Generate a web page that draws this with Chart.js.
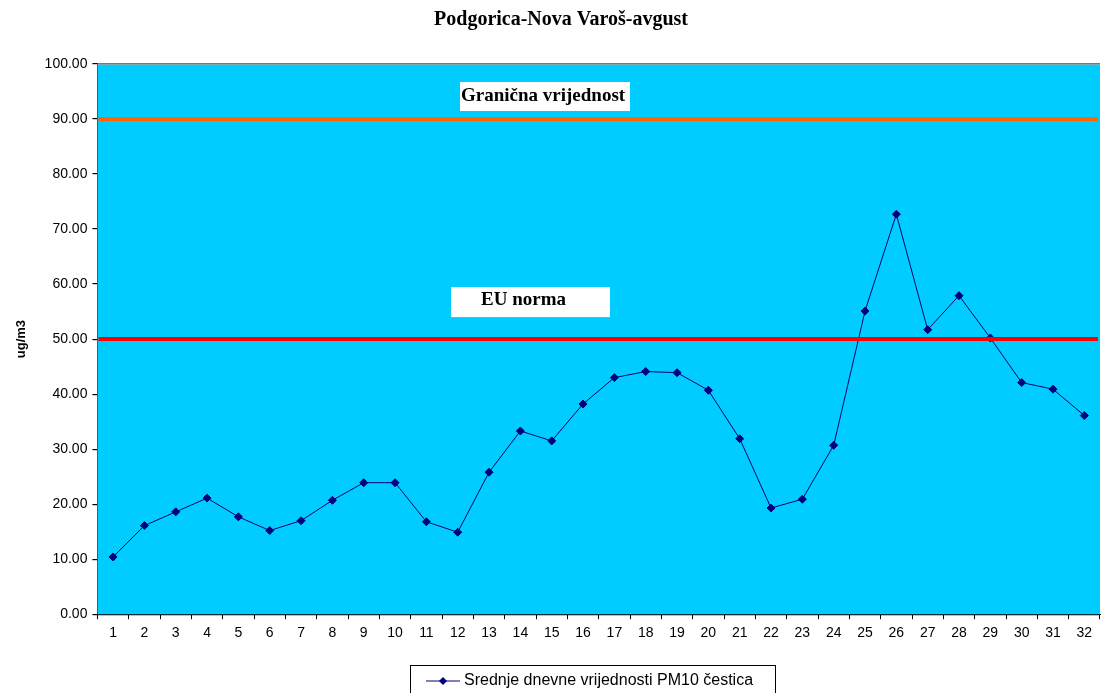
<!DOCTYPE html>
<html>
<head>
<meta charset="utf-8">
<script src="https://cdn.jsdelivr.net/npm/chart.js@4/dist/chart.umd.min.js"></script>
<style>
    body { margin: 0; background: #fff; }
    #wrap { width: 1105px; height: 693px; }
</style>
</head>
<body>
<div id="wrap"><canvas id="graficoPM10" width="1105" height="693"></canvas></div>
<script>
const dani = ["1", "2", "3", "4", "5", "6", "7", "8", "9", "10", "11", "12", "13", "14", "15", "16",
    "17", "18", "19", "20", "21", "22", "23", "24", "25", "26", "27", "28", "29", "30", "31", "32"];

const srednjeVrijednosti = [10.4, 16.1, 18.6, 21.1, 17.7, 15.2, 17.0, 20.7, 23.9, 23.9, 16.8, 14.9, 25.8, 33.3, 31.5, 38.2,
    43.0, 44.1, 43.9, 40.7, 31.9, 19.3, 20.9, 30.7, 55.1, 72.7, 51.7, 57.9, 50.2, 42.1, 40.9, 36.1];

const granicnaVrijednost = 90;
const euNorma = 50;

const nazivSerije = "Srednje dnevne vrijednosti PM10 čestica";
const naslov = "Podgorica-Nova Varoš-avgust";

// pozadina, granicne linije i natpisi
const pozadinaPlugin = {
    id: "pozadina",
    beforeDatasetsDraw(chart) {
        const { ctx, chartArea } = chart;
        ctx.save();
        ctx.fillStyle = "#00ccff";
        ctx.fillRect(chartArea.left, chartArea.top, chartArea.right - chartArea.left, chartArea.bottom - chartArea.top);
        ctx.strokeStyle = "#a0a0a0";
        ctx.lineWidth = 1.5;
        ctx.beginPath();
        ctx.moveTo(chartArea.left, chartArea.top);
        ctx.lineTo(chartArea.right, chartArea.top);
        ctx.stroke();
        ctx.restore();
    },
    afterDatasetsDraw(chart) {
        const { ctx, chartArea, scales } = chart;
        const y90 = scales.y.getPixelForValue(granicnaVrijednost);
        const y50 = scales.y.getPixelForValue(euNorma);

        ctx.save();
        ctx.lineWidth = 4;
        ctx.strokeStyle = "#ff6600";
        ctx.beginPath();
        ctx.moveTo(chartArea.left + 1, y90);
        ctx.lineTo(chartArea.right - 2, y90);
        ctx.stroke();

        ctx.strokeStyle = "#ff0000";
        ctx.beginPath();
        ctx.moveTo(chartArea.left + 1, y50);
        ctx.lineTo(chartArea.right - 2, y50);
        ctx.stroke();

        ctx.fillStyle = "#fff";
        ctx.fillRect(460, y90 - 37, 170, 29);
        ctx.fillRect(451, y50 - 52, 159, 30);

        ctx.fillStyle = "#000";
        ctx.font = "bold 19px 'Liberation Serif', 'Times New Roman', serif";
        ctx.textBaseline = "middle";
        ctx.fillText("Granična vrijednost", 461, y90 - 23);
        ctx.fillText("EU norma", 481, y50 - 39);
        ctx.restore();
    },
    afterDraw(chart) {
        // legenda u okviru, kao u Excelu
        const { ctx } = chart;
        const ds = chart.data.datasets[0];
        ctx.save();
        ctx.strokeStyle = "#000";
        ctx.lineWidth = 1;
        ctx.strokeRect(410.5, 665.5, 365, 40);
        ctx.strokeStyle = ds.borderColor;
        ctx.beginPath();
        ctx.moveTo(426, 681);
        ctx.lineTo(460, 681);
        ctx.stroke();
        ctx.fillStyle = ds.pointBackgroundColor;
        ctx.beginPath();
        ctx.moveTo(443, 677);
        ctx.lineTo(447, 681);
        ctx.lineTo(443, 685);
        ctx.lineTo(439, 681);
        ctx.closePath();
        ctx.fill();
        ctx.fillStyle = "#000";
        ctx.font = "16px 'Liberation Sans', Arial, sans-serif";
        ctx.textBaseline = "middle";
        ctx.fillText(ds.label, 464, 681);
        ctx.restore();
    }
};

const ctx = document.getElementById("graficoPM10").getContext("2d");

new Chart(ctx, {
    type: "line",
    data: {
        labels: dani,
        datasets: [
            {
                label: nazivSerije,
                data: srednjeVrijednosti,
                borderColor: "#000080",
                borderWidth: 1,
                pointStyle: "rectRot",
                pointRadius: 4,
                pointBackgroundColor: "#000080",
                pointBorderColor: "#000080",
                tension: 0,
            },
        ],
    },
    options: {
        responsive: false,
        animation: false,
        layout: {
            padding: { left: 14, right: -3, top: 0, bottom: 45 },
        },
        plugins: {
            legend: { display: false },
            tooltip: { enabled: false },
            title: {
                display: true,
                text: naslov,
                color: "#000",
                font: { family: "'Liberation Serif', 'Times New Roman', serif", size: 20, weight: "bold" },
                padding: { top: 8, bottom: 32 },
            },
        },
        scales: {
            x: {
                offset: true,
                grid: {
                    offset: true,
                    drawOnChartArea: false,
                    drawTicks: true,
                    tickLength: 5,
                    color: "#000",
                },
                border: { color: "#000", width: 1 },
                ticks: {
                    color: "#000",
                    font: { family: "'Liberation Sans', Arial, sans-serif", size: 14 },
                    maxRotation: 0,
                    autoSkip: false,
                    padding: 6,
                },
            },
            y: {
                min: 0,
                max: 100,
                grid: {
                    color: "#000",
                    lineWidth: 1.2,
                    tickLength: 5,
                },
                border: { color: "#000", width: 1.2 },
                ticks: {
                    stepSize: 10,
                    color: "#000",
                    font: { family: "'Liberation Sans', Arial, sans-serif", size: 14 },
                    padding: 5,
                    callback: (v) => Number(v).toFixed(2),
                },
                title: {
                    display: true,
                    text: "ug/m3",
                    color: "#000",
                    font: { family: "'Liberation Sans', Arial, sans-serif", size: 13, weight: "bold" },
                    padding: { top: 0, bottom: 10 },
                },
            },
        },
    },
    plugins: [pozadinaPlugin],
});
</script>
</body>
</html>
